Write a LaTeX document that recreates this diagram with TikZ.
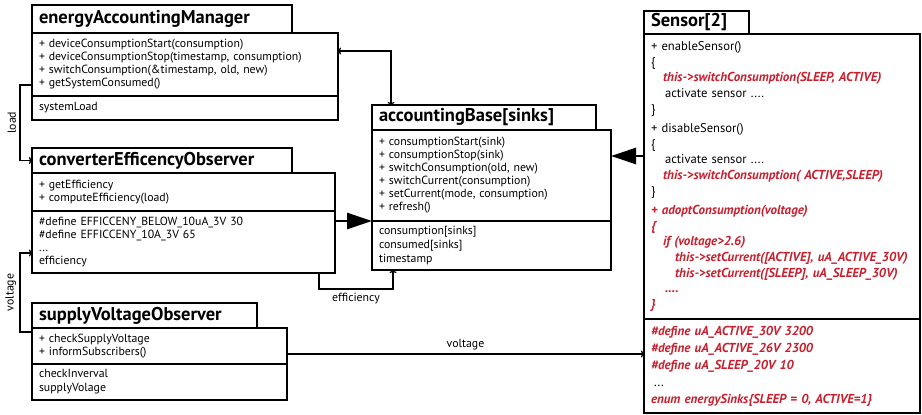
\documentclass[tikz,border=0pt]{standalone}
\usepackage{fontspec}
\setmainfont{PT Sans}
\usetikzlibrary{arrows.meta}

\definecolor{codered}{RGB}{200,32,46}
\newcommand{\rc}[1]{{\color{codered}\bfseries\itshape\fontsize{13}{15.6}\selectfont #1}}

\tikzset{
  head/.style={draw, line width=1.6pt, fill=white, anchor=north west, outer sep=0pt,
    inner xsep=7pt, inner ysep=1pt, align=left, font=\fontsize{18.5}{20}\selectfont\bfseries},
  part/.style={draw, line width=1.6pt, fill=white, anchor=north west, outer sep=0pt,
    inner xsep=7pt, inner ysep=2pt, align=left, font=\fontsize{11.8}{13}\selectfont},
  link/.style={line width=1.3pt, -{To[length=3pt,width=7pt]}},
  biglink/.style={line width=2.6pt, -{Triangle[length=25pt,width=16pt]}},
  tag/.style={font=\fontsize{11.8}{13}\selectfont}
}

\begin{document}
\begin{tikzpicture}[x=1pt, y=-1pt]
\useasboundingbox (0,0) rectangle (922,415);

% energyAccountingManager
\node[head, text width=246pt, minimum height=28pt] (eamT) at (32,5) {energyAccountingManager};
\node[part, text width=292pt, minimum height=63pt] (eamM) at (eamT.south west)
  {+ deviceConsumptionStart(consumption)\\
   + deviceConsumptionStop(timestamp, consumption)\\
   + switchConsumption(\&timestamp, old, new)\\
   + getSystemConsumed()};
\node[part, text width=292pt, minimum height=24pt] (eamA) at (eamM.south west) {systemLoad};

% converterEfficencyObserver
\node[head, text width=246pt, minimum height=25pt] (ceoT) at (32,148) {converterEfficencyObserver};
\node[part, text width=289pt, minimum height=38pt] (ceoM) at (ceoT.south west)
  {+ getEfficiency\\
   + computeEfficiency(load)};
\node[part, text width=289pt, minimum height=62pt] (ceoA) at (ceoM.south west)
  {\#define EFFICCENY\_BELOW\_10uA\_3V 30\\
   \#define EFFICCENY\_10A\_3V 65\\
   ...\\
   efficiency};

% supplyVoltageObserver
\node[head, text width=211pt, minimum height=25pt] (svoT) at (32,303) {supplyVoltageObserver};
\node[part, text width=241pt, minimum height=36pt] (svoM) at (svoT.south west)
  {+ checkSupplyVoltage\\
   + informSubscribers()};
\node[part, text width=241pt, minimum height=36pt, font=\fontsize{11.8}{14}\selectfont] (svoA) at (svoM.south west)
  {checkInverval\\
   supplyVolage};

% accountingBase
\node[head, text width=210pt, minimum height=25pt] (abT) at (372,105) {accountingBase[sinks]};
\node[part, text width=225pt, minimum height=91pt] (abM) at (abT.south west)
  {+ consumptionStart(sink)\\
   + consumptionStop(sink)\\
   + switchConsumption(old, new)\\
   + switchCurrent(consumption)\\
   + setCurrent(mode, consumption)\\
   + refresh()};
\node[part, text width=225pt, minimum height=49pt, font=\fontsize{11.8}{14}\selectfont] (abA) at (abM.south west)
  {consumption[sinks]\\
   consumed[sinks]\\
   timestamp};

% Sensor
\node[head, text width=91pt, minimum height=23pt] (senT) at (644,11) {Sensor[2]};
\node[part, text width=262pt, minimum height=285pt, font=\fontsize{12.6}{15.6}\selectfont] (senM) at (senT.south west)
  {+ enableSensor()\\
   \{\\
   \hspace*{12pt}\rc{this->switchConsumption(SLEEP, ACTIVE)}\\
   \hspace*{14pt}activate sensor ....\\
   \}\\[4pt]
   + disableSensor()\\
   \{\\
   \hspace*{14pt}activate sensor ....\\
   \hspace*{12pt}\rc{this->switchConsumption( ACTIVE,SLEEP)}\\
   \}\\[4pt]
   \rc{+ adoptConsumption(voltage)}\\
   \rc{\{}\\
   \hspace*{12pt}\rc{if (voltage>2.6)}\\
   \hspace*{24pt}\rc{this->setCurrent([ACTIVE], uA\_ACTIVE\_30V)}\\
   \hspace*{24pt}\rc{this->setCurrent([SLEEP], uA\_SLEEP\_30V)}\\
   \hspace*{14pt}\rc{....}\\
   \rc{\}}};
\node[part, text width=262pt, minimum height=94pt, font=\fontsize{12.6}{17}\selectfont] (senA) at (senM.south west)
  {\rc{\#define uA\_ACTIVE\_30V 3200}\\
   \rc{\#define uA\_ACTIVE\_26V 2300}\\
   \rc{\#define uA\_SLEEP\_20V 10}\\
   \hspace*{3pt}...\\
   \rc{enum energySinks\{SLEEP = 0, ACTIVE=1\}}};

% connectors
\draw[link, {To[length=3pt,width=7pt]}-{To[length=3pt,width=7pt]}]
  ([yshift=13.5]eamM.east) -| ([xshift=19]abT.north west);
\draw[link] ([yshift=-20.5]eamM.west) -- ++(-12,0) |- (ceoT.west)
  node[tag, pos=0.25, above, rotate=90] {load};
\draw[link] ([yshift=14]svoM.west) -- ++(-12,0) |- ([yshift=-11]ceoA.west)
  node[tag, pos=0.25, above, rotate=90] {voltage};
\draw[link] ([xshift=-16]ceoA.south east) -- ++(0,16) -| ([xshift=21]abA.south west)
  node[tag, pos=0.25, below] {efficiency};
\draw[link] ([yshift=-8]svoM.east) -- ([yshift=-8]svoM.east -| senA.west)
  node[tag, midway, above] {voltage};
\draw[biglink] (ceoA.east |- abM.south west) -- (abM.south west);
\coordinate (sensIn) at ([yshift=19.5]abM.east);
\draw[biglink] (sensIn -| senM.west) -- (sensIn);

\end{tikzpicture}
\end{document}
